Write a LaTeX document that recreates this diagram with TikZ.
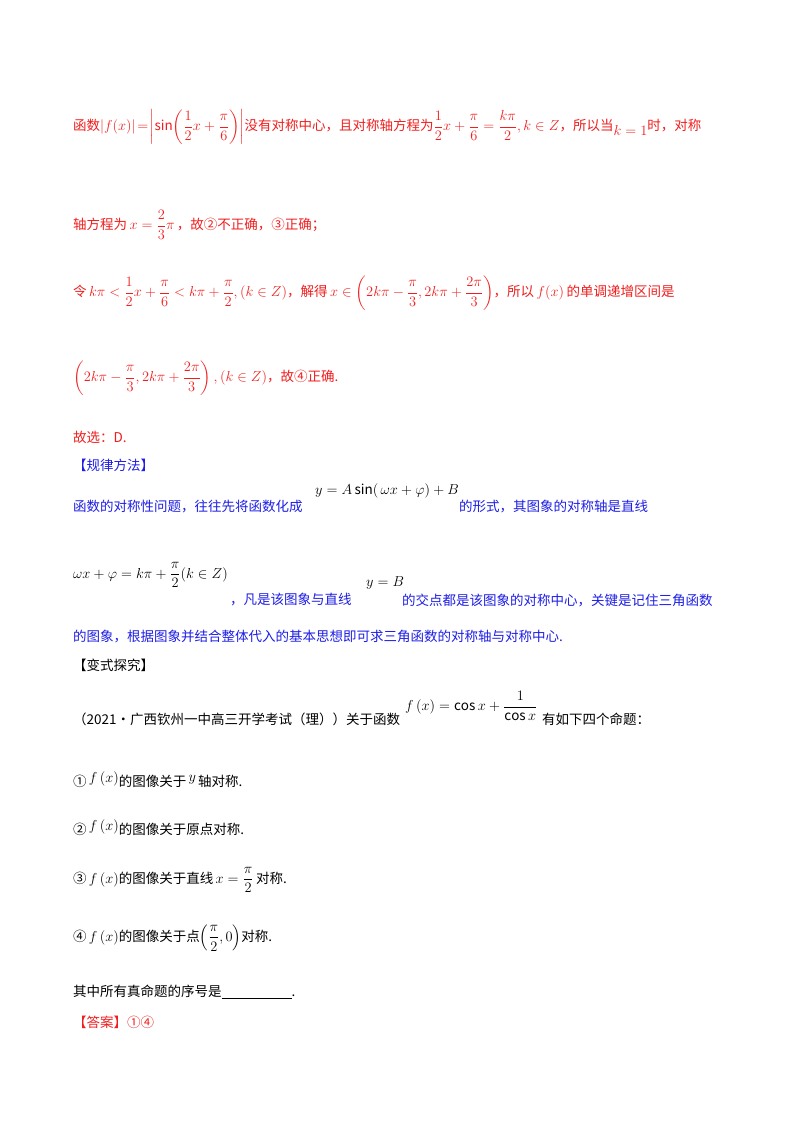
\documentclass[tikz,border=0pt]{standalone}
\usepackage{fontspec}
\usepackage{amsmath}
\setmainfont{Noto Sans CJK SC}
\definecolor{rd}{RGB}{240,30,30}
\definecolor{bl}{RGB}{30,30,230}
\begin{document}
\begin{tikzpicture}[x=1pt,y=-1pt,
  t/.style={anchor=west,inner sep=0pt,font=\fontsize{13.5}{16}\selectfont},
  r/.style={t,text=rd},b/.style={t,text=bl}]
\useasboundingbox[fill=white] (0,0) rectangle (800,1132);
\node[r] (l1) at (73,127) {函数$|f(x)|\!=\!\left|\sin\!\left(\dfrac12x+\dfrac{\pi}{6}\right)\right|$没有对称中心，且对称轴方程为$\dfrac12x+\dfrac{\pi}{6}=\dfrac{k\pi}{2},k\in Z$，所以当\raisebox{-5pt}{$k=1$}时，对称};
\node[r] (l2) at (73,225) {轴方程为$\,x=\dfrac23\pi$\,，故②不正确，③正确；};
\node[r] (l3) at (73,293) {令$\,k\pi<\dfrac12x+\dfrac{\pi}{6}<k\pi+\dfrac{\pi}{2},(k\in Z)$，解得$\,x\in\left(2k\pi-\dfrac{\pi}{3},2k\pi+\dfrac{2\pi}{3}\right)$，所以$\,f(x)\,$的单调递增区间是};
\node[r] (l4) at (73,378) {$\left(2k\pi-\dfrac{\pi}{3},2k\pi+\dfrac{2\pi}{3}\right),(k\in Z)$，故④正确.};
\node[r] (l5) at (73,437) {故选：D.};
\node[b] (l6) at (73,465) {【规律方法】};
\node[b] (l7) at (73,507) {函数的对称性问题，往往先将函数化成};
\node[t] (f1) at (315,491) {$y=A\sin(\,\omega x+\varphi)+B$};
\node[b] (l8) at (459,507) {的形式，其图象的对称轴是直线};
\node[t] (f2) at (73,575) {$\omega x+\varphi=k\pi+\dfrac{\pi}{2}(k\in Z)$};
\node[b] (l9) at (230,600) {，凡是该图象与直线};
\node[t] (f3) at (366,583) {$y=B$};
\node[b] (l10) at (402,600) {的交点都是该图象的对称中心，关键是记住三角函数};
\node[b] (l11) at (73,637) {的图象，根据图象并结合整体代入的基本思想即可求三角函数的对称轴与对称中心.};
\node[t] (l12) at (73,665) {【变式探究】};
\node[t] (l13) at (73,719) {（2021·广西钦州一中高三开学考试（理））关于函数};
\node[t] (f4) at (405,706) {$f\left(x\right)=\cos x+\dfrac{1}{\cos x}$};
\node[t] (l14) at (542,719) {有如下四个命题：};
\node[t] (p1) at (73,780) {①\,\raisebox{4pt}{$f\left(x\right)$}的图像关于\,\raisebox{5pt}{$y$}\,轴对称.};
\node[t] (p2) at (73,828) {②\,\raisebox{4pt}{$f\left(x\right)$}的图像关于原点对称.};
\node[t] (p3) at (73,880) {③\,$f\left(x\right)$的图像关于直线$\,x=\dfrac{\pi}{2}\,$对称.};
\node[t] (p4) at (73,938) {④\,$f\left(x\right)$的图像关于点$\left(\dfrac{\pi}{2},0\right)$对称.};
\node[t] (p5) at (73,992) {其中所有真命题的序号是\underline{\hspace{70pt}}.};
\node[r] (p6) at (73,1022) {【答案】①④};
\end{tikzpicture}
\end{document}
